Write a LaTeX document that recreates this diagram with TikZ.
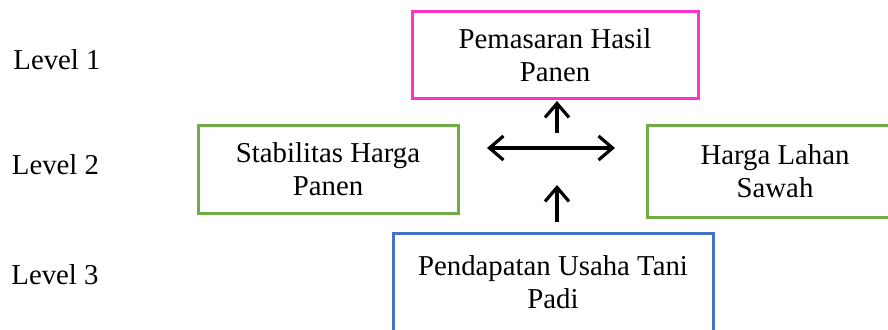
\documentclass[tikz,border=0pt]{standalone}
\usepackage{fontspec}
\setmainfont{Liberation Serif}
\newfontfamily\boxfont{Liberation Serif}
\usetikzlibrary{arrows.meta}

\definecolor{pinkbox}{HTML}{FF33CC}
\definecolor{greenbox}{HTML}{70AD47}
\definecolor{bluebox}{HTML}{4472C4}

\tikzset{
  levelbox/.style={draw, line width=3pt, inner sep=0pt, align=center,
    font=\boxfont\fontsize{28.8}{33}\selectfont},
  levellabel/.style={inner sep=0pt, font=\boxfont\fontsize{28.8}{33}\selectfont},
  linkarrow/.style={line width=3.2pt, {Straight Barb[length=14pt,width=24pt]}-{Straight Barb[length=14pt,width=24pt]}},
  uparrow/.style={line width=3.2pt, -{Straight Barb[length=14pt,width=24pt]}}
}

\begin{document}
\begin{tikzpicture}[x=1pt,y=-1pt]
  \useasboundingbox (0,0) rectangle (888,329);

  % levels
  \node[levellabel] (lv1) at (57,60) {Level 1};
  \node[levellabel] (lv2) at (55.5,165) {Level 2};
  \node[levellabel] (lv3) at (55,275) {Level 3};

  % boxes
  \node[levelbox, draw=pinkbox, minimum width=286pt, minimum height=87pt]
    (pemasaran) at (555,55) {Pemasaran Hasil\\Panen};
  \node[levelbox, draw=greenbox, minimum width=260pt, minimum height=88pt]
    (stabilitas) at (328,169) {Stabilitas Harga\\Panen};
  \node[levelbox, draw=greenbox, minimum width=256pt, minimum height=92pt]
    (lahan) at (775,171) {Harga Lahan\\Sawah};
  \node[levelbox, draw=bluebox, minimum width=320pt, minimum height=98pt]
    (pendapatan) at (553,282) {Pendapatan Usaha Tani\\Padi};

  % arrows
  \coordinate (hl) at (487,148);
  \coordinate (hr) at (615,148);
  \coordinate (utail) at (557,133);
  \coordinate (utip) at (557,101);
  \coordinate (dtail) at (557,222);
  \coordinate (dtip) at (557,185);
  \draw[linkarrow] (hl) -- (hr);
  \draw[uparrow] (utail) -- (utip);
  \draw[uparrow] (dtail) -- (dtip);
\end{tikzpicture}
\end{document}
